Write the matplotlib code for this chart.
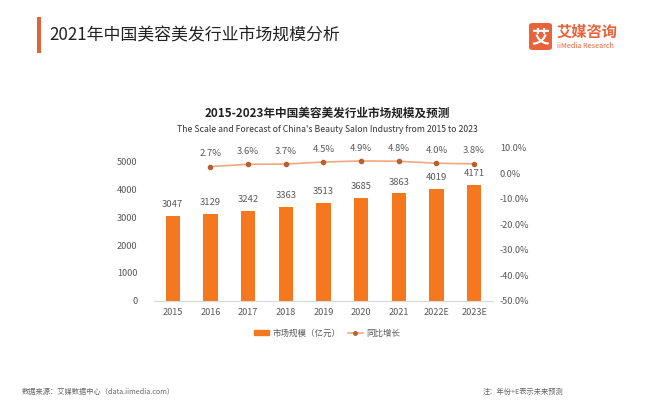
import matplotlib
matplotlib.use("Agg")
import matplotlib.pyplot as plt
from matplotlib.patches import FancyBboxPatch, Rectangle
from matplotlib.lines import Line2D

plt.rcParams['font.family'] = ['Noto Sans CJK SC', 'DejaVu Sans']

years = ["2015", "2016", "2017", "2018", "2019", "2020", "2021", "2022E", "2023E"]
market_size = [3047, 3129, 3242, 3363, 3513, 3685, 3863, 4019, 4171]
growth_years = ["2016", "2017", "2018", "2019", "2020", "2021", "2022E", "2023E"]
growth = [2.7, 3.6, 3.7, 4.5, 4.9, 4.8, 4.0, 3.8]
left_ticks = [0, 1000, 2000, 3000, 4000, 5000]
right_ticks = [-50, -40, -30, -20, -10, 0, 10]

BAR = "#F5781E"
LINE = "#EFA882"
MARK = "#B8602E"
GRAY = "#595959"

W, H = 661, 400
fig = plt.figure(figsize=(W / 100, H / 100), dpi=100)

# header
fig.patches.append(Rectangle((37 / W, 1 - 53 / H), 4 / W, 36 / H, transform=fig.transFigure,
                             color="#E0643A", lw=0))
fig.text(49 / W, 1 - 35 / H, "2021年中国美容美发行业市场规模分析", fontsize=12.2,
         color="#222222", va="center", ha="left")

# logo
fig.patches.append(FancyBboxPatch((529 / W, 1 - 50 / H), 23 / W, 27 / H,
                                  boxstyle="round,pad=0,rounding_size=0.006",
                                  transform=fig.transFigure, color="#E8633A", lw=0))
fig.text(540.5 / W, 1 - 36.5 / H, "艾", fontsize=13, color="white", fontweight="bold",
         ha="center", va="center")
fig.text(557 / W, 1 - 32 / H, "艾媒咨询", fontsize=11, color="#E8633A", fontweight="bold",
         ha="left", va="center")
fig.text(557 / W, 1 - 46 / H, "iiMedia Research", fontsize=5.2, color="#E8633A",
         ha="left", va="center")

# chart titles
fig.text(327 / W, 1 - 113 / H, "2015-2023年中国美容美发行业市场规模及预测", fontsize=8.4,
         color="#222222", fontweight="bold", ha="center", va="center")
fig.text(327 / W, 1 - 130 / H,
         "The Scale and Forecast of China's Beauty Salon Industry from 2015 to 2023",
         fontsize=6.25, color="#333333", ha="center", va="center")

# axes
ax = fig.add_axes([153.9 / W, 1 - 300.7 / H, 339 / W, 152.7 / H])
x = list(range(len(years)))
ax.bar(x, market_size, width=0.38, color=BAR, zorder=2)
for xi, v in zip(x, market_size):
    ax.annotate(f"{v}", (xi, v), xytext=(0, 5), textcoords="offset points",
                ha="center", va="bottom", fontsize=6.8, color=GRAY)
ax.set_xlim(-0.5, len(years) - 0.5)
ax.set_ylim(0, 5500)
ax.set_yticks(left_ticks)
ax.set_xticks(x)
ax.set_xticklabels(years)
for s in ["top", "right", "left"]:
    ax.spines[s].set_visible(False)
ax.spines["bottom"].set_color("#D9D9D9")
ax.spines["bottom"].set_linewidth(0.8)
ax.tick_params(axis="both", length=0, labelsize=6.6, labelcolor=GRAY)
ax.tick_params(axis="y", pad=12)
ax.tick_params(axis="x", pad=5)

ax2 = ax.twinx()
gx = [years.index(y) for y in growth_years]
ax2.plot(gx, growth, color=LINE, lw=1.2, marker="o", markersize=3,
         markerfacecolor=MARK, markeredgecolor=MARK, zorder=3)
for xi, v in zip(gx, growth):
    ax2.annotate(f"{v:.1f}%", (xi, v), xytext=(0, 6), textcoords="offset points",
                 ha="center", va="bottom", fontsize=6.8, color=GRAY)
ax2.set_ylim(-50, 10)
ax2.set_yticks(right_ticks)
ax2.set_yticklabels([f"{t:.1f}%" for t in right_ticks])
for s in ["top", "right", "left", "bottom"]:
    ax2.spines[s].set_visible(False)
ax2.tick_params(axis="y", length=0, labelsize=6.6, labelcolor=GRAY, pad=5)

# legend
handles = [Rectangle((0, 0), 1, 1, color=BAR),
           Line2D([0], [0], color=LINE, lw=1.2, marker="o", markersize=2.5,
                  markerfacecolor=MARK, markeredgecolor=MARK)]
fig.legend(handles, ["市场规模（亿元）", "同比增长"], loc="center",
           bbox_to_anchor=(327 / W, 1 - 333 / H), ncol=2, frameon=False,
           fontsize=6.1, labelcolor=GRAY, handlelength=1.8, handleheight=0.5,
           columnspacing=0.9, handletextpad=0.4)

# footer
fig.text(22 / W, 1 - 392 / H, "数据来源：艾媒数据中心（data.iimedia.com）", fontsize=5.2,
         color="#666666", ha="left", va="center")
fig.text(483 / W, 1 - 392 / H, "注：年份+E表示未来预测", fontsize=5.2,
         color="#666666", ha="left", va="center")

fig.savefig("out.png", dpi=100)
